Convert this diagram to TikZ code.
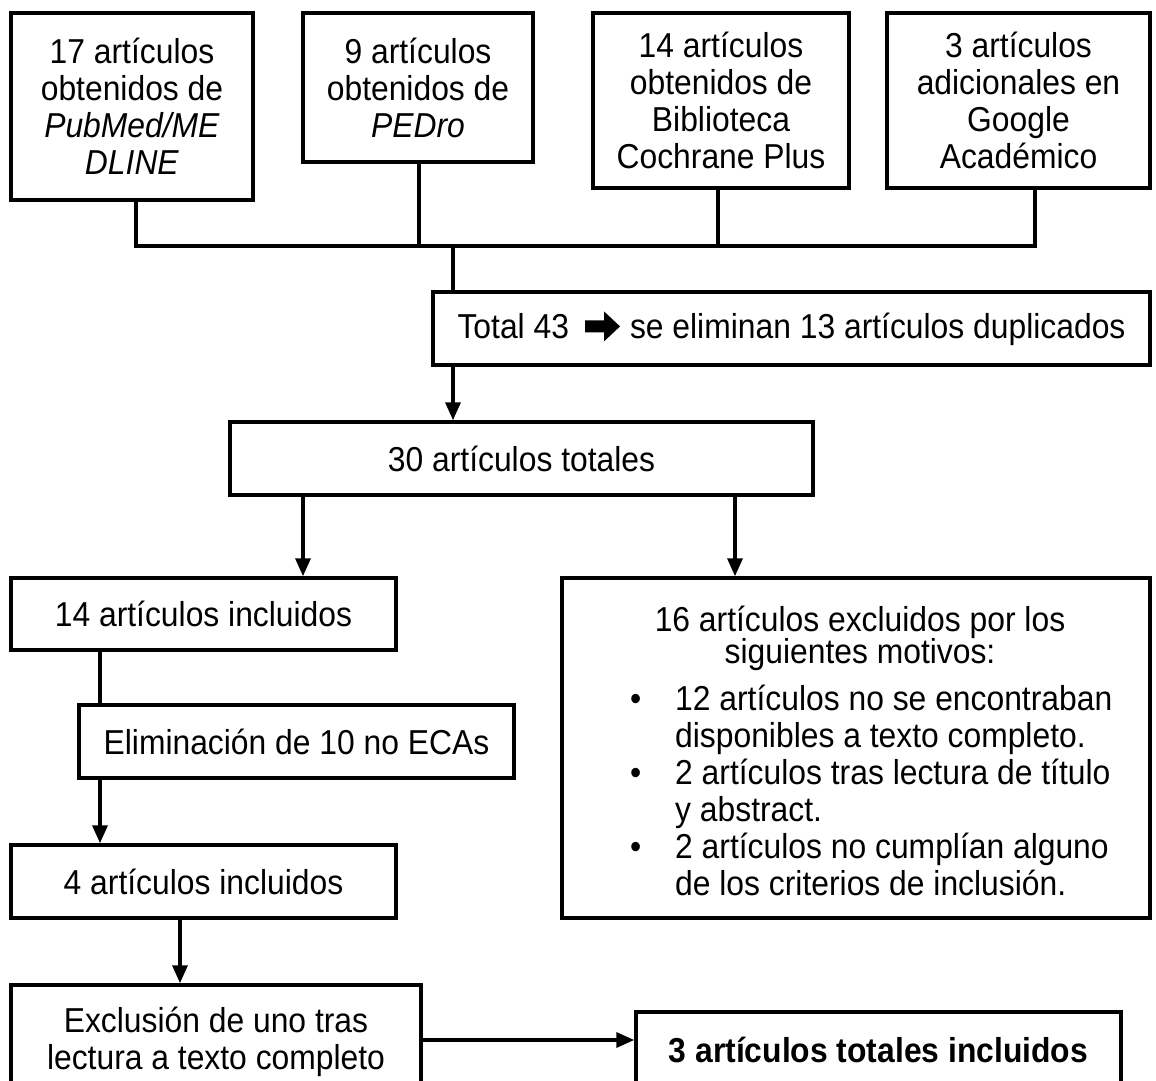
\documentclass[tikz,border=0pt]{standalone}
\usepackage{fontspec}
\setmainfont{Liberation Sans}[FakeStretch=0.92]
\usetikzlibrary{arrows.meta}
\newcommand{\blockarrow}{\tikz[x=1pt,y=1pt,baseline=-12pt]{\fill[black] (0,-6)--(19,-6)--(19,-15)--(35,0)--(19,15)--(19,6)--(0,6)--cycle;}}
\begin{document}
\begin{tikzpicture}[x=1pt,y=-1pt,
  box/.style={draw, line width=3.5pt, align=center, inner sep=0pt,
    font=\fontsize{34.6}{37}\selectfont},
  txt/.style={inner sep=0pt, font=\fontsize{34.6}{37}\selectfont},
  ln/.style={line width=3.5pt, line cap=rect},
  arr/.style={line width=3.5pt, -{Triangle[width=15pt,length=18pt]}}]
\useasboundingbox (0,0) rectangle (1156,1081);
\clip (0,0) rectangle (1156,1081);
\fill[white] (0,0) rectangle (1156,1081);

% top boxes
\node[box, minimum width=242pt, minimum height=187pt] (b1) at (132,106.5)
  {17 artículos\\obtenidos de\\\textit{PubMed/ME}\\\textit{DLINE}};
\node[box, minimum width=230pt, minimum height=149pt] (b2) at (418,87.5)
  {9 artículos\\obtenidos de\\\textit{PEDro}};
\node[box, minimum width=256pt, minimum height=175pt] (b3) at (721,100.5)
  {14 artículos\\obtenidos de\\Biblioteca\\Cochrane Plus};
\node[box, minimum width=263pt, minimum height=175pt] (b4) at (1018.5,100.5)
  {3 artículos\\adicionales en\\Google\\Académico};

\coordinate (s1) at (136,246);
\coordinate (s2) at (419,246);
\coordinate (s3) at (718,246);
\coordinate (s4) at (1035,246);
\coordinate (j) at (453,246);

\draw[ln] (b1.south -| s1) -- (s1) -- (s4) -- (b4.south -| s4);
\draw[ln] (b2.south -| s2) -- (s2);
\draw[ln] (b3.south -| s3) -- (s3);

% total
\node[box, minimum width=717pt, minimum height=73pt] (tot) at (791.5,328.5)
  {Total 43\hspace{16pt}\blockarrow\hspace{10pt}se eliminan 13 artículos duplicados};
\draw[ln] (j) -- (j |- tot.north);

\node[box, minimum width=583pt, minimum height=73pt] (t30) at (521.5,458.5)
  {30 artículos totales};
\draw[arr] (j |- tot.south) -- (j |- t30.north);

% second level
\node[box, minimum width=385pt, minimum height=72pt] (inc14) at (203.5,614)
  {14 artículos incluidos};
\node[box, minimum width=588pt, minimum height=340pt] (ex16) at (856,748) {};
\node[txt, align=center] (ex16h) at (860,638)
  {16 artículos excluidos por los\\[-5pt]siguientes motivos:};
\node[txt, align=left, anchor=west] (ex16l) at (630,790.5)
  {\makebox[45pt][l]{•}12 artículos no se encontraban\\
   \makebox[45pt][l]{}disponibles a texto completo.\\
   \makebox[45pt][l]{•}2 artículos tras lectura de título\\
   \makebox[45pt][l]{}y abstract.\\
   \makebox[45pt][l]{•}2 artículos no cumplían alguno\\
   \makebox[45pt][l]{}de los criterios de inclusión.};

\coordinate (a1) at (303,0);
\coordinate (a2) at (735,0);
\draw[arr] (a1 |- t30.south) -- (a1 |- inc14.north);
\draw[arr] (a2 |- t30.south) -- (a2 |- ex16.north);

\node[box, minimum width=435pt, minimum height=73pt] (elim) at (296.5,741.5)
  {Eliminación de 10 no ECAs};
\node[box, minimum width=385pt, minimum height=73pt] (inc4) at (203.5,881.5)
  {4 artículos incluidos};
\coordinate (c1) at (100,0);
\draw[ln] (c1 |- inc14.south) -- (c1 |- elim.north);
\draw[arr] (c1 |- elim.south) -- (c1 |- inc4.north);

\node[box, minimum width=410pt, minimum height=113pt] (excl) at (216,1041.5)
  {Exclusión de uno tras\\lectura a texto completo};
\coordinate (c2) at (180,0);
\draw[arr] (c2 |- inc4.south) -- (c2 |- excl.north);

\node[box, minimum width=485pt, minimum height=76pt] (tot3) at (878.5,1050)
  {\textbf{3 artículos totales incluidos}};
\coordinate (c3) at (0,1040);
\draw[arr] (excl.east |- c3) -- (tot3.west |- c3);
\end{tikzpicture}
\end{document}
